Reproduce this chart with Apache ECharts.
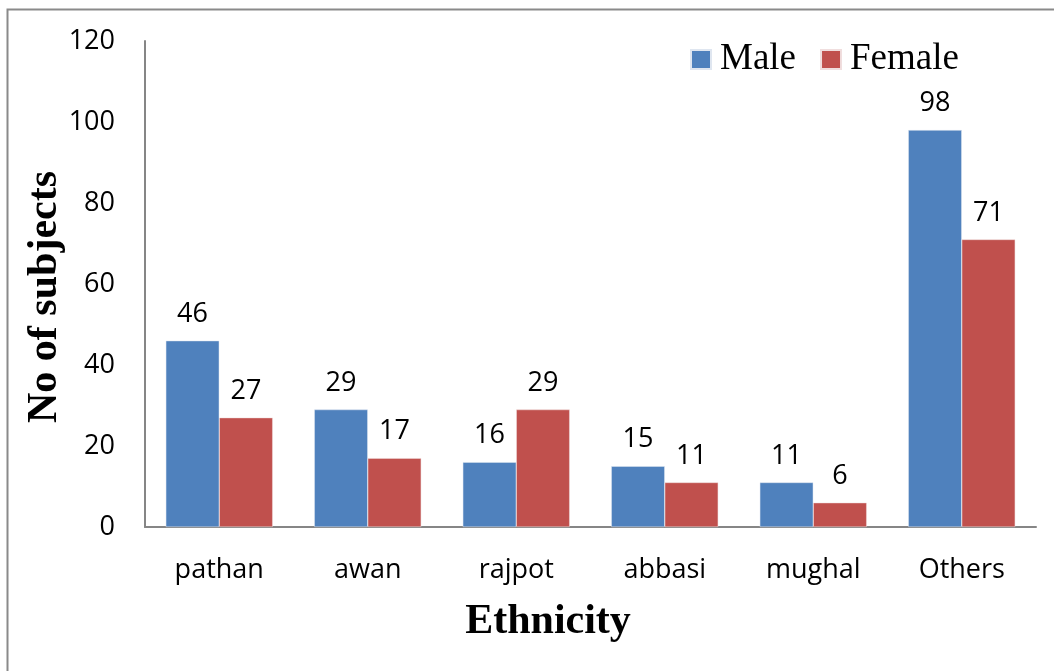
<!DOCTYPE html>
<html>
<head>
<meta charset="utf-8">
<script src="https://cdn.jsdelivr.net/npm/echarts@6/dist/echarts.min.js"></script>
<style>
html,body{margin:0;padding:0;background:#fff;}
#chart{width:1054px;height:671px;}
</style>
</head>
<body>
<div id="chart"></div>
<script>
// Ethnicity breakdown of subjects by sex
const categories = ['pathan', 'awan', 'rajpot', 'abbasi', 'mughal', 'Others'];
const maleValues = [46, 29, 16, 15, 11, 98];
const femaleValues = [27, 17, 29, 11, 6, 71];
const yTicks = { min: 0, max: 120, interval: 20 };

const chart = echarts.init(document.getElementById('chart'));

const labelFont = { fontFamily: '"Open Sans", Lato, sans-serif', fontSize: 27, color: '#000' };
const serifBold = { fontFamily: '"Liberation Serif", "Times New Roman", serif', fontSize: 42, fontWeight: 'bold', fill: '#000' };

chart.setOption({
  animation: false,
  backgroundColor: '#fff',
  graphic: [
    {
      type: 'rect',
      shape: { x: 7.5, y: 9.5, width: 1100, height: 700 },
      style: { fill: 'none', stroke: '#8a8a8a', lineWidth: 2 },
      silent: true
    },
    {
      type: 'text',
      x: 45, y: 297,
      rotation: Math.PI / 2,
      style: Object.assign({ text: 'No of subjects', align: 'center', verticalAlign: 'middle' }, serifBold),
      silent: true
    },
    {
      type: 'text',
      x: 548, y: 622,
      style: Object.assign({ text: 'Ethnicity', align: 'center', verticalAlign: 'middle' }, serifBold),
      silent: true
    }
  ],
  legend: {
    top: 36,
    left: 685,
    icon: 'rect',
    itemWidth: 20,
    itemHeight: 19,
    itemGap: 24,
    textStyle: { fontFamily: '"Liberation Serif", "Times New Roman", serif', fontSize: 37, color: '#000', padding: [0, 0, 0, 4] },
    data: ['Male', 'Female']
  },
  grid: { left: 145, right: 18, top: 41, bottom: 144, containLabel: false },
  xAxis: {
    type: 'category',
    data: categories,
    axisLine: { lineStyle: { color: '#868686', width: 2 } },
    axisTick: { show: false },
    axisLabel: Object.assign({ margin: 30 }, labelFont)
  },
  yAxis: {
    type: 'value',
    min: yTicks.min,
    max: yTicks.max,
    interval: yTicks.interval,
    axisLine: { show: true, lineStyle: { color: '#868686', width: 2 } },
    axisTick: { show: false },
    splitLine: { show: false },
    axisLabel: Object.assign({ margin: 30 }, labelFont)
  },
  series: [
    {
      name: 'Male',
      type: 'bar',
      data: maleValues,
      barGap: '0%',
      barCategoryGap: '28%',
      itemStyle: { color: '#4F81BD', borderColor: '#dfe6f0', borderWidth: 0.5 },
      label: Object.assign({ show: true, position: 'top', distance: 13 }, labelFont)
    },
    {
      name: 'Female',
      type: 'bar',
      data: femaleValues,
      barGap: '0%',
      barCategoryGap: '28%',
      itemStyle: { color: '#C0504D', borderColor: '#f0dede', borderWidth: 0.5 },
      label: Object.assign({ show: true, position: 'top', distance: 13 }, labelFont)
    }
  ]
});
</script>
</body>
</html>
